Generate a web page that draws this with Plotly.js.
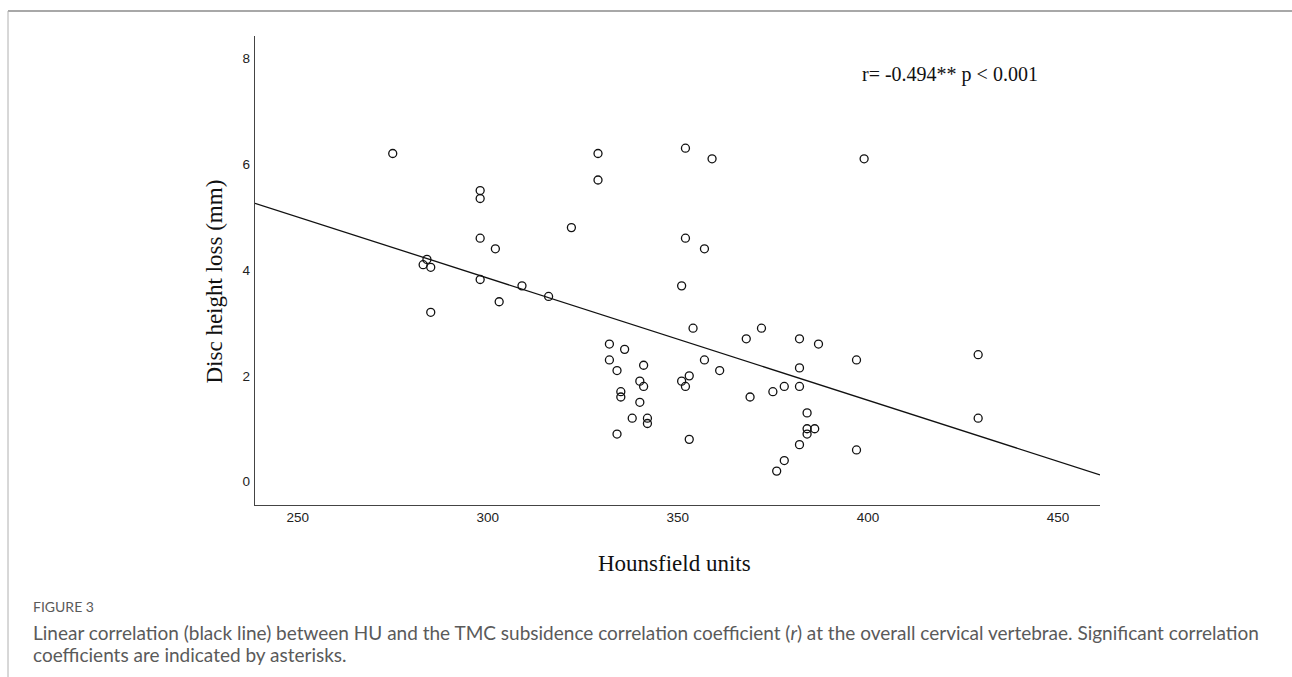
<!DOCTYPE html>
<html>
<head>
<meta charset="utf-8">
<script src="https://cdn.plot.ly/plotly-3.0.1.min.js"></script>
<style>
html,body{margin:0;padding:0;background:#fff;}
#chart{width:1292px;height:677px;}
</style>
</head>
<body>
<div id="chart"></div>
<script>
// Data
var hu = [275, 298, 298, 283, 284, 285, 298, 302, 298, 329, 329, 322, 352, 359, 352, 357, 399,
          285, 303, 309, 316, 351, 354, 368, 372, 332, 336, 332, 334, 341, 340, 341, 335, 335,
          340, 338, 342, 342, 334, 351, 353, 352, 357, 361, 369, 353, 382, 387, 397, 429, 382,
          375, 378, 382, 384, 384, 386, 384, 382, 397, 378, 376, 429];
var heightLoss = [6.2, 5.5, 5.35, 4.1, 4.2, 4.05, 4.6, 4.4, 3.82, 6.2, 5.7, 4.8, 6.3, 6.1, 4.6, 4.4, 6.1,
          3.2, 3.4, 3.7, 3.5, 3.7, 2.9, 2.7, 2.9, 2.6, 2.5, 2.3, 2.1, 2.2, 1.9, 1.8, 1.7, 1.6,
          1.5, 1.2, 1.2, 1.1, 0.9, 1.9, 2.0, 1.8, 2.3, 2.1, 1.6, 0.8, 2.7, 2.6, 2.3, 2.4, 2.15,
          1.7, 1.8, 1.8, 1.3, 1.0, 1.0, 0.9, 0.7, 0.6, 0.4, 0.2, 1.2];
var fitX = [238.77, 461.05];
var fitY = [5.26, 0.13];
var xTicks = [250, 300, 350, 400, 450];
var yTicks = [0, 2, 4, 6, 8];
var annotationText = "r= -0.494** p < 0.001";
var captionHead = "FIGURE 3";
var captionLine1 = "Linear correlation (black line) between HU and the TMC subsidence correlation coefficient (<i>r</i>) at the overall cervical vertebrae. Significant correlation";
var captionLine2 = "coefficients are indicated by asterisks.";

// geometry helpers (pixel -> paper)
var L = 255, R = 1100, T = 36, B = 505, W = 1292, H = 677;
function px(x){ return (x - L) / (R - L); }
function py(y){ return (B - y) / (B - T); }

var serif = "Liberation Serif, Times New Roman, serif";
var sans = "Liberation Sans, Arial, sans-serif";
var capFont = "Lato, Open Sans, sans-serif";

var traces = [
  {
    x: fitX, y: fitY, type: 'scatter', mode: 'lines',
    line: {color: '#111', width: 1.3}, hoverinfo: 'skip', showlegend: false
  },
  {
    x: hu, y: heightLoss, type: 'scatter', mode: 'markers',
    marker: {symbol: 'circle-open', size: 8, color: '#111', line: {width: 1.3, color: '#111'}},
    showlegend: false
  }
];

var layout = {
  width: W, height: H,
  margin: {l: L, r: W - R, t: T, b: H - B, pad: 0},
  paper_bgcolor: '#fff', plot_bgcolor: '#fff',
  showlegend: false,
  xaxis: {
    range: [238.77, 461.05], tickvals: xTicks, ticktext: xTicks.map(String),
    showgrid: false, zeroline: false, showline: true, linecolor: '#444', linewidth: 1.2,
    ticks: '', ticklabelstandoff: 0,
    tickfont: {family: sans, size: 13.5, color: '#222'}
  },
  yaxis: {
    range: [-0.44, 8.42], tickvals: yTicks, ticktext: yTicks.map(String),
    showgrid: false, zeroline: false, showline: true, linecolor: '#444', linewidth: 1.2,
    ticks: '', ticklabelstandoff: 1,
    tickfont: {family: sans, size: 13.5, color: '#222'}
  },
  shapes: [
    {type: 'line', xref: 'paper', yref: 'paper', x0: px(8), x1: px(W), y0: py(11), y1: py(11),
     line: {color: '#a8a8a8', width: 2}},
    {type: 'line', xref: 'paper', yref: 'paper', x0: px(8), x1: px(8), y0: py(11), y1: py(H),
     line: {color: '#b0b0b0', width: 1}}
  ],
  annotations: [
    {text: annotationText, xref: 'paper', yref: 'paper', x: px(860), y: py(74),
     xanchor: 'left', yanchor: 'middle', showarrow: false,
     font: {family: serif, size: 20, color: '#111'}},
    {text: 'Disc height loss (mm)', xref: 'paper', yref: 'paper', x: px(214), y: py(281.5),
     xanchor: 'center', yanchor: 'middle', showarrow: false, textangle: -90,
     font: {family: serif, size: 23, color: '#111'}},
    {text: 'Hounsfield units', xref: 'paper', yref: 'paper', x: px(674.5), y: py(563),
     xanchor: 'center', yanchor: 'middle', showarrow: false,
     font: {family: serif, size: 23, color: '#111'}},
    {text: captionHead, xref: 'paper', yref: 'paper', x: px(31), y: py(606),
     xanchor: 'left', yanchor: 'middle', showarrow: false,
     font: {family: capFont, size: 14, color: '#5a5a5a'}},
    {text: captionLine1, xref: 'paper', yref: 'paper', x: px(31), y: py(632),
     xanchor: 'left', yanchor: 'middle', showarrow: false,
     font: {family: capFont, size: 19, color: '#5a5a5a'}},
    {text: captionLine2, xref: 'paper', yref: 'paper', x: px(31), y: py(654),
     xanchor: 'left', yanchor: 'middle', showarrow: false,
     font: {family: capFont, size: 19, color: '#5a5a5a'}}
  ]
};

Plotly.newPlot('chart', traces, layout, {displayModeBar: false, staticPlot: true});
</script>
</body>
</html>
